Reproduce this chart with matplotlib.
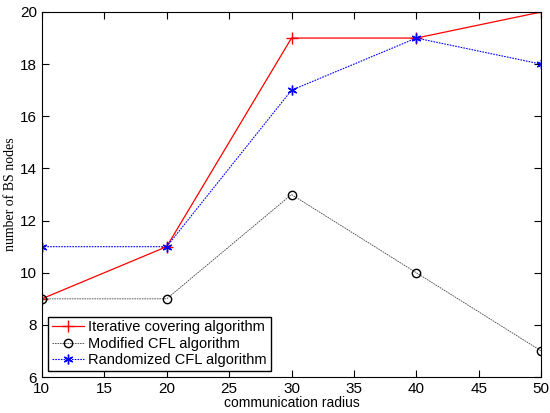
import matplotlib
matplotlib.use("Agg")
import matplotlib.pyplot as plt

radius = [10, 20, 30, 40, 50]
iterative = [9, 11, 19, 19, 20]
modified = [9, 9, 13, 10, 7]
randomized = [11, 11, 17, 19, 18]

plt.rcParams['font.family'] = ['Liberation Sans', 'DejaVu Sans']

fig = plt.figure(figsize=(5.5, 4.13), dpi=100)
ax = fig.add_axes([0.076, 0.087, 0.908, 0.884])

ax.plot(radius, iterative, color='red', linestyle='-', marker='+', markersize=9, linewidth=0.9,
        label='Iterative covering algorithm')
ax.plot(radius, modified, color='#444444', linestyle=(0, (2, 1)), marker='o', markersize=6,
        markerfacecolor='none', markeredgecolor='black', linewidth=0.6,
        label='Modified CFL algorithm')
ax.plot(radius, randomized, color='blue', linestyle=(0, (1.5, 1)), marker=(6, 2, 0), markersize=7,
        markeredgewidth=1.0, linewidth=0.8, label='Randomized CFL algorithm')

ax.set_xlim(10, 50)
ax.set_ylim(6, 20)
ax.set_xticks(range(10, 51, 5))
ax.set_yticks(range(6, 21, 2))
ax.tick_params(direction='in', top=True, right=True, labelsize=11, length=5)
ax.set_xlabel('communication radius', fontsize=10, labelpad=0)
ax.set_ylabel('number of BS nodes', fontsize=10, family='Liberation Serif', labelpad=2)

leg = ax.legend(loc='lower left', fontsize=10.5, fancybox=False, edgecolor='black',
                framealpha=1, borderpad=0.25, labelspacing=0.15, handlelength=2.2,
                handletextpad=0.3, borderaxespad=0.45)
leg.get_frame().set_linewidth(1.0)

fig.savefig('out.png', dpi=100)
